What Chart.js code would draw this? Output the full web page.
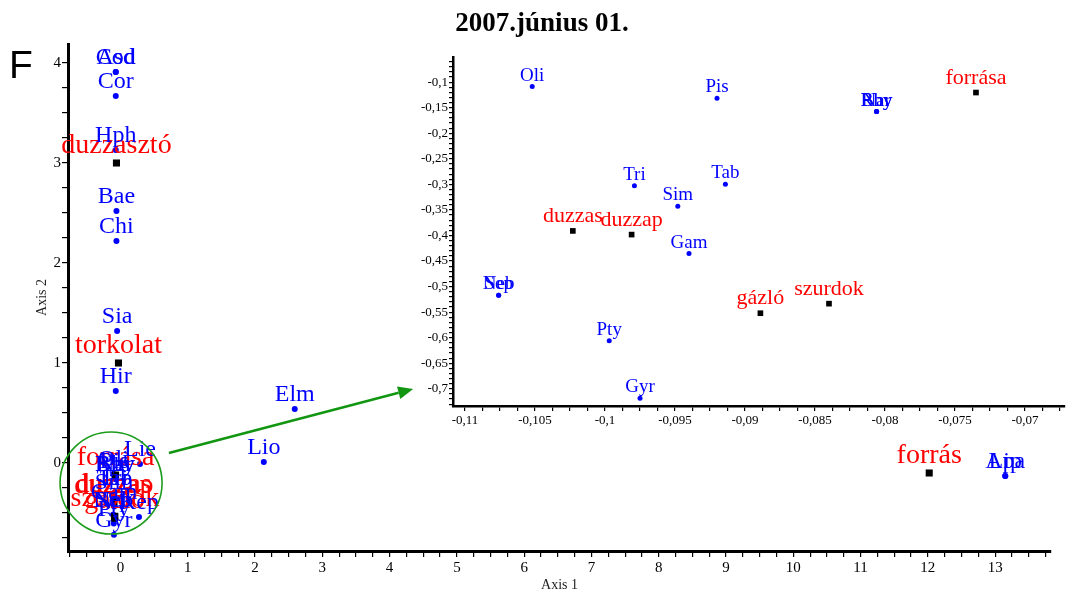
<!DOCTYPE html>
<html>
<head>
<meta charset="utf-8">
<title>2007.június 01.</title>
<script src="https://cdn.jsdelivr.net/npm/chart.js@4"></script>
<style>
  body{margin:0;background:#fff}
  #wrap{position:relative;width:1069px;height:599px}
  #mainChart{position:absolute;left:0;top:0}
  #insetChart{position:absolute;left:400px;top:45px}
</style>
</head>
<body>
<div id="wrap">
  <canvas id="mainChart" width="1069" height="599"></canvas>
  <canvas id="insetChart" width="669" height="395"></canvas>
</div>
<script>
// species lying away from the origin group (main plot only)
const farSpecies  = ['Asd','Cod','Cor','Hph','Bae','Chi','Sia','Hir','Elm','Lio','Lie','Kep','Apa','Lip'];
const farSpeciesX = [-0.07,-0.07,-0.07,-0.07,-0.06,-0.06,-0.05,-0.07,2.59,2.13,0.29,0.275,13.15,13.15];
const farSpeciesY = [3.91,3.91,3.67,3.13,2.52,2.22,1.32,0.72,0.54,0.01,-0.01,-0.54,-0.13,-0.13];

// sites (black squares) away from the origin group
const farSites  = ['duzzasztó','torkolat','forrás'];
const farSitesX = [-0.06,-0.03,12.02];
const farSitesY = [3.0,1.0,-0.10];

// the crowded group near the origin, shown in both plots
const clusterSpecies  = ['Oli','Pis','Nar','Rhy','Bby','Tri','Tab','Sim','Gam','Neb','Sep','Pty','Gyr'];
const clusterSpeciesX = [-0.1052,-0.0920,-0.0806,-0.0806,-0.0806,-0.0979,-0.0914,-0.0948,-0.0940,-0.1076,-0.1076,-0.0997,-0.0975];
const clusterSpeciesY = [-0.1086,-0.1313,-0.1575,-0.1575,-0.1575,-0.3029,-0.2996,-0.3427,-0.4354,-0.5168,-0.5168,-0.6057,-0.7184];

const clusterSites  = ['forrása','duzzas','duzzap','gázló','szurdok'];
const clusterSitesX = [-0.0735,-0.1023,-0.0981,-0.0889,-0.0840];
const clusterSitesY = [-0.1203,-0.3910,-0.3982,-0.5520,-0.5333];

// axis ranges and tick steps
const mainX = {min:-0.78, max:13.83, step:0.25, label:1};
const mainY = {min:-0.88, max:4.19, step:0.25, label:1};
const insetX = {min:-0.11086, max:-0.06714, step:0.00125, label:0.005};
const insetY = {min:-0.7335, max:-0.0508, step:0.01, label:0.05};

// zoom marker (data units of the main plot)
const ringCenter = [-0.14, -0.2];
const arrowFrom = [0.72, 0.10];
const arrowTo = [4.35, 0.74];

const SERIF = '"Liberation Serif", "Times New Roman", serif';
const BLUE = '#0000ff', RED = '#ff0000';

const toPts = (xs, ys) => xs.map((x, i) => ({x: x, y: ys[i]}));
const onStep = (v, s) => Math.abs(v / s - Math.round(v / s)) < 1e-6;
const commaNum = v => String(Math.round(v * 1000) / 1000).replace('.', ',');

// writes the name above each mark
const pointLabels = {
  id: 'pointLabels',
  afterDatasetsDraw(chart){
    const ctx = chart.ctx;
    chart.data.datasets.forEach((ds, i) => {
      if(!ds.names) return;
      const meta = chart.getDatasetMeta(i);
      ctx.save();
      ctx.fillStyle = ds.labelColor;
      ctx.font = ds.labelFont;
      ctx.textAlign = 'center';
      ctx.textBaseline = 'alphabetic';
      meta.data.forEach((pt, j) => ctx.fillText(ds.names[j], pt.x, pt.y - ds.labelGap));
      ctx.restore();
    });
  }
};

// title, panel letter, green ring and arrow
const decor = {
  id: 'decor',
  afterDraw(chart){
    const ctx = chart.ctx;
    const sx = chart.scales.x, sy = chart.scales.y;
    ctx.save();
    ctx.fillStyle = '#000';
    ctx.font = 'bold 27px ' + SERIF;
    ctx.textAlign = 'center';
    ctx.fillText('2007.június 01.', 542, 31);
    ctx.font = '39px "Liberation Sans", Arial, sans-serif';
    ctx.textAlign = 'left';
    ctx.fillText('F', 9, 78);

    // ring
    ctx.strokeStyle = '#1c9c1c';
    ctx.lineWidth = 1.6;
    ctx.beginPath();
    ctx.arc(sx.getPixelForValue(ringCenter[0]), sy.getPixelForValue(ringCenter[1]), 51, 0, Math.PI * 2);
    ctx.stroke();

    // arrow
    const x1 = sx.getPixelForValue(arrowFrom[0]), y1 = sy.getPixelForValue(arrowFrom[1]);
    const x2 = sx.getPixelForValue(arrowTo[0]), y2 = sy.getPixelForValue(arrowTo[1]);
    const ang = Math.atan2(y2 - y1, x2 - x1);
    const head = 15, half = 6.5;
    const bx = x2 - head * Math.cos(ang), by = y2 - head * Math.sin(ang);
    ctx.strokeStyle = '#129612';
    ctx.fillStyle = '#129612';
    ctx.lineWidth = 2.6;
    ctx.beginPath();
    ctx.moveTo(x1, y1);
    ctx.lineTo(bx, by);
    ctx.stroke();
    ctx.beginPath();
    ctx.moveTo(x2, y2);
    ctx.lineTo(bx + half * Math.sin(ang), by - half * Math.cos(ang));
    ctx.lineTo(bx - half * Math.sin(ang), by + half * Math.cos(ang));
    ctx.closePath();
    ctx.fill();
    ctx.restore();
  }
};

function axis(r, fontSize, fmt, tickLen, borderW){
  return {
    type: 'linear', min: r.min, max: r.max,
    ticks: {
      stepSize: r.step, autoSkip: false, includeBounds: false, maxRotation: 0,
      padding: 1, color: '#000', font: {family: SERIF, size: fontSize},
      callback: v => onStep(v, r.label) ? fmt(v) : ''
    },
    grid: {drawOnChartArea: false, drawTicks: true, tickLength: tickLen, color: '#000', lineWidth: 1.2},
    border: {color: '#000', width: borderW}
  };
}

// main plot
const mainXScale = axis(mainX, 15, v => Math.round(v), 6, 3);
mainXScale.afterFit = s => { s.height = 48; };
mainXScale.ticks.padding = 2;
mainXScale.title = {display: true, text: 'Axis 1', color: '#222', font: {family: SERIF, size: 14}, padding: {top: 0, bottom: 5}};
const mainYScale = axis(mainY, 15, v => Math.round(v), 6, 3);
mainYScale.afterFit = s => { s.width = 68; };
mainYScale.title = {display: true, text: 'Axis 2', color: '#222', font: {family: SERIF, size: 14}, padding: {top: 34, bottom: 0}};

new Chart(document.getElementById('mainChart'), {
  type: 'scatter',
  data: {
    datasets: [
      {data: toPts(clusterSitesX, clusterSitesY), names: clusterSites,
       pointStyle: 'rect', pointRadius: 5, backgroundColor: '#000', borderWidth: 0,
       labelColor: RED, labelFont: '28px ' + SERIF, labelGap: 10},
      {data: toPts(farSitesX, farSitesY), names: farSites,
       pointStyle: 'rect', pointRadius: 5, backgroundColor: '#000', borderWidth: 0,
       labelColor: RED, labelFont: '28px ' + SERIF, labelGap: 10},
      {data: toPts(clusterSpeciesX, clusterSpeciesY), names: clusterSpecies,
       pointStyle: 'circle', pointRadius: 3, backgroundColor: BLUE, borderWidth: 0,
       labelColor: BLUE, labelFont: '24px ' + SERIF, labelGap: 8},
      {data: toPts(farSpeciesX, farSpeciesY), names: farSpecies,
       pointStyle: 'circle', pointRadius: 3, backgroundColor: BLUE, borderWidth: 0,
       labelColor: BLUE, labelFont: '24px ' + SERIF, labelGap: 8}
    ]
  },
  options: {
    responsive: false,
    animation: false,
    layout: {padding: {top: 44, right: 18, left: 0, bottom: 0}},
    plugins: {legend: {display: false}, tooltip: {enabled: false}},
    scales: {x: mainXScale, y: mainYScale}
  },
  plugins: [pointLabels, decor]
});

// inset: close-up of the origin group
const insetXScale = axis(insetX, 13, commaNum, 5, 2.5);
insetXScale.afterFit = s => { s.height = 34; };
insetXScale.ticks.padding = 2;
const insetYScale = axis(insetY, 13, commaNum, 4, 2.5);
insetYScale.afterFit = s => { s.width = 53; };

new Chart(document.getElementById('insetChart'), {
  type: 'scatter',
  data: {
    datasets: [
      {data: toPts(clusterSitesX, clusterSitesY), names: clusterSites,
       pointStyle: 'rect', pointRadius: 4, backgroundColor: '#000', borderWidth: 0,
       labelColor: RED, labelFont: '22px ' + SERIF, labelGap: 9},
      {data: toPts(clusterSpeciesX, clusterSpeciesY), names: clusterSpecies,
       pointStyle: 'circle', pointRadius: 2.5, backgroundColor: BLUE, borderWidth: 0,
       labelColor: BLUE, labelFont: '19px ' + SERIF, labelGap: 6}
    ]
  },
  options: {
    responsive: false,
    animation: false,
    layout: {padding: {top: 12, right: 4, left: 0, bottom: 0}},
    plugins: {legend: {display: false}, tooltip: {enabled: false}},
    scales: {x: insetXScale, y: insetYScale}
  },
  plugins: [pointLabels]
});
</script>
</body>
</html>
